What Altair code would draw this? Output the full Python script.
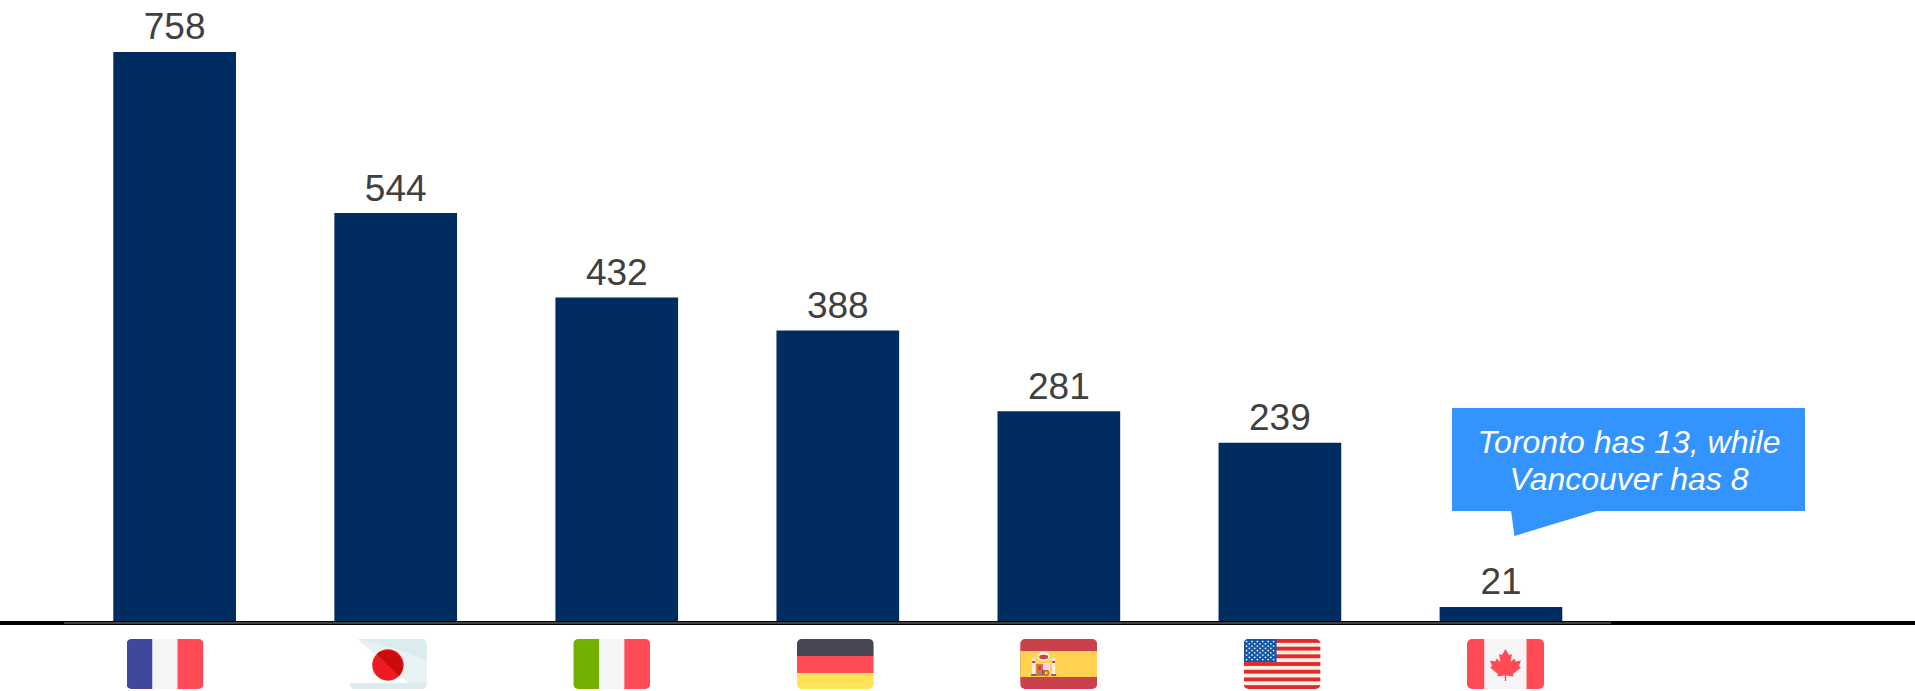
import base64
import altair as alt
import pandas as pd

countries = ["France", "Japan", "Italy", "Germany", "Spain", "United States", "Canada"]
restaurants = [758, 544, 432, 388, 281, 239, 21]
note_lines = ["Toronto has 13, while", "Vancouver has 8"]

NAVY = "#002C5F"
TEXT = "#404040"
CALLOUT = "#3393FF"


def svg_uri(body, w=77, h=50):
    svg = f'<svg xmlns="http://www.w3.org/2000/svg" width="{w}" height="{h}" viewBox="0 0 {w} {h}">{body}</svg>'
    return "data:image/svg+xml;base64," + base64.b64encode(svg.encode()).decode()


def flag(body):
    clip = '<clipPath id="c"><rect width="77" height="50" rx="5"/></clipPath>'
    return svg_uri(f'{clip}<g clip-path="url(#c)">{body}</g>')


def band(x, y, w, h, fill):
    return f'<rect x="{x}" y="{y}" width="{w}" height="{h}" fill="{fill}"/>'


def tricolor(a, b, c):
    return band(0, 0, 26, 50, a) + band(26, 0, 25, 50, b) + band(51, 0, 26, 50, c)


def japan():
    return (
        band(0, 0, 77, 50, "#FFFFFF")
        + '<polygon points="7,0 77,0 77,22 45,10" fill="#DCECEE"/>'
        + '<polygon points="7,0 45,10 77,22 77,44 59,44" fill="#E9F2F3"/>'
        + band(0, 44, 77, 6, "#DCECEE")
        + '<circle cx="38" cy="26" r="15.7" fill="#ED1C24"/>'
        + '<path d="M27,15 A15.7,15.7 0 0 1 49.1,37.1 Z" fill="#CC0A0A"/>'
    )


def spain():
    emblem = (
        band(12, 19, 3, 16, "#F5F0E6") + band(32, 19, 3, 16, "#F5F0E6")
        + band(12, 22, 3, 2, "#C8414B") + band(32, 22, 3, 2, "#C8414B")
        + band(11, 35, 5, 2, "#6B6B78") + band(31, 35, 5, 2, "#6B6B78")
        + '<ellipse cx="23.5" cy="17.5" rx="6" ry="4.5" fill="#F5F0E6"/>'
        + '<ellipse cx="23.5" cy="18" rx="4.5" ry="2.2" fill="#C8414B"/>'
        + band(16, 25, 7, 12, "#E0713A") + band(23, 24, 7, 9, "#F7D5E6")
        + band(18, 27, 3, 4, "#C8414B") + band(22, 31, 2, 5, "#41479B")
        + '<circle cx="26" cy="34" r="3.2" fill="#D9622B"/>'
        + '<circle cx="26" cy="34" r="1.4" fill="#FFD250"/>'
    )
    return band(0, 0, 77, 50, "#C8414B") + band(0, 12, 77, 26, "#FFD250") + emblem


def usa():
    h = 50 / 13
    out = band(0, 0, 77, 50, "#F8F1E3")
    for i in range(0, 13, 2):
        out += band(0, round(i * h, 2), 77, round(h, 2), "#E22A2A")
    out += band(0, 0, 33, 23, "#1556A5")
    for row in range(9):
        for col in range(6 if row % 2 == 0 else 5):
            cx = 3 + col * 5.4 + (0 if row % 2 == 0 else 2.7)
            out += f'<circle cx="{cx:.1f}" cy="{2.6 + row * 2.25:.2f}" r="0.9" fill="#EAF2FA"/>'
    return out


def canada():
    right = [(42, 16), (45, 15), (43.5, 23), (47.5, 19.5), (48.5, 22.5), (54, 21.5),
             (52, 27), (54, 28.5), (46, 35), (46.5, 37.5), (39.2, 36.5), (39.2, 42)]
    left = [(77 - x, y) for x, y in reversed(right)]
    pts = " ".join(f"{x},{y}" for x, y in [(38.5, 10)] + right + left)
    return (
        band(0, 0, 17.5, 50, "#FF4B55") + band(17.5, 0, 42, 50, "#F5F5F5")
        + band(59.5, 0, 17.5, 50, "#FF4B55")
        + f'<polygon points="{pts}" fill="#FF4B55"/>'
    )


flags = [
    flag(tricolor("#41479B", "#F5F5F5", "#FF4B55")),
    flag(japan()),
    flag(tricolor("#73AF00", "#F5F5F5", "#FF4B55")),
    flag(band(0, 0, 77, 17, "#464655") + band(0, 17, 77, 17, "#FF4B55") + band(0, 34, 77, 16, "#FFE15A")),
    flag(spain()),
    flag(usa()),
    flag(canada()),
]

table = pd.DataFrame({"country": countries, "count": restaurants, "flag": flags})
notes = pd.DataFrame({"line": note_lines, "row": [0, 1]})

x_scale = alt.Scale(type="band", domain=countries, range=[113.3, 1562.3], paddingInner=0.445, paddingOuter=0)
y_scale = alt.Scale(domain=[0, 827], range=[622.8, 0], nice=False, zero=True)
x_enc = alt.X("country:N", scale=x_scale, axis=None, sort=countries)
y_enc = alt.Y("count:Q", scale=y_scale, axis=None)

bars = alt.Chart(table).mark_bar(color=NAVY).encode(x=x_enc, y=y_enc)

labels = alt.Chart(table).mark_text(
    font="Liberation Sans", fontSize=37, color=TEXT, baseline="alphabetic", align="center", dy=-12.5
).encode(x=x_enc, y=y_enc, text=alt.Text("count:Q"))

axis_black = alt.Chart(table).mark_rule(color="#000000", strokeWidth=4).encode(
    x=alt.value(0), x2=alt.value(1915), y=alt.value(623)
)
axis_grey = alt.Chart(table).mark_rule(color="#404040", strokeWidth=2).encode(
    x=alt.value(64), x2=alt.value(1611), y=alt.value(623)
)

# The flags sit on a slightly wider spacing than the bars, so they get a scale of their own.
flag_marks = alt.Chart(table).mark_image(width=77, height=50).encode(
    x=alt.X("country:N", sort=countries, axis=None,
            scale=alt.Scale(type="point", domain=countries, range=[165, 1505.5], padding=0)),
    y=alt.value(664),
    url=alt.Url("flag:N"),
)

# Speech-bubble annotation above the Canadian bar.
bubble_body = alt.Chart(notes.head(1)).mark_rect(color=CALLOUT).encode(
    x=alt.value(1452), x2=alt.value(1805), y=alt.value(408), y2=alt.value(511)
)
tail = svg_uri(f'<polygon points="0,0 89,0 3.4,26 " fill="{CALLOUT}"/>', w=89, h=26)
bubble_tail = alt.Chart(notes.head(1)).mark_image(url=tail, width=89, height=26).encode(
    x=alt.value(1555.5), y=alt.value(523)
)
bubble_text = alt.Chart(notes).mark_text(
    font="Liberation Sans", fontSize=32, fontStyle="italic", color="#FFFFFF",
    baseline="alphabetic", align="center"
).encode(
    x=alt.value(1629),
    y=alt.Y("row:O", axis=None, scale=alt.Scale(domain=[0, 1], type="point", range=[453, 490], padding=0)),
    text="line:N",
)

chart = (
    alt.layer(bars, axis_black, axis_grey, labels, flag_marks, bubble_body, bubble_tail, bubble_text)
    .resolve_scale(x="independent", y="independent")
    .properties(width=1915, height=691, padding=0, background="#FFFFFF",
                autosize=alt.AutoSizeParams(type="none"))
    .configure_view(stroke=None)
)

chart.save("out.html", embed_options={"renderer": "svg", "actions": False})
